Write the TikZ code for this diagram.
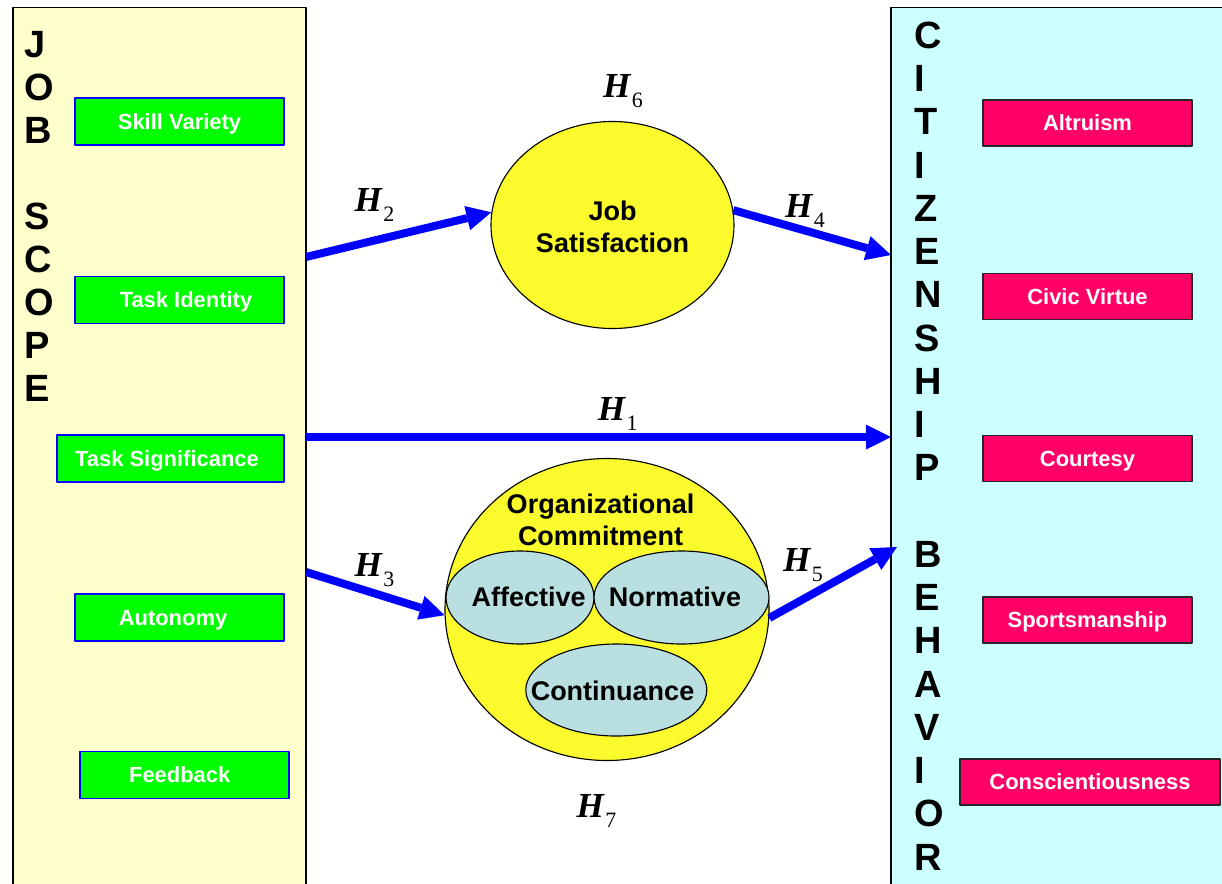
\documentclass[tikz,border=0pt]{standalone}
\usepackage{fontspec}
\setmainfont{Liberation Sans}
\newfontfamily\hfont{Liberation Serif}
\usetikzlibrary{arrows.meta,shapes.geometric}
\definecolor{Jfill}{HTML}{FFFFCC}
\definecolor{Cfill}{HTML}{CCFFFF}
\definecolor{Gbox}{HTML}{00FF00}
\definecolor{Rbox}{HTML}{FF0066}
\definecolor{Yfill}{HTML}{FAFA2C}
\definecolor{Efill}{HTML}{B9DFE0}
\definecolor{Aline}{HTML}{0000FF}
\newcommand{\unitpx}{0.025cm}
\newcommand{\hlabel}[1]{{\hfont\fontsize{25}{25}\selectfont\bfseries\itshape H}\kern1pt\raisebox{-7pt}{\hfont\fontsize{15.6}{16}\selectfont #1}}

\begin{document}
\begin{tikzpicture}[x=0.025cm,y=-0.025cm,line join=round,
  letter/.style={anchor=base west,inner sep=0pt,font=\fontsize{27}{27}\selectfont\bfseries},
  boxtext/.style={inner sep=0pt,text=white,text height=11.2pt,text depth=0pt,font=\fontsize{15.6}{18}\selectfont\bfseries},
  gbox/.style={boxtext,draw=Aline,line width=0.8pt,fill=Gbox,minimum width=209*\unitpx,minimum height=47*\unitpx},
  rbox/.style={boxtext,draw=black!85,line width=1pt,fill=Rbox,minimum width=209*\unitpx,minimum height=46*\unitpx},
  blob/.style={ellipse,draw=black,line width=0.8pt,inner sep=0pt},
  blobtext/.style={inner sep=0pt,align=center,font=\fontsize{19.2}{22.3}\selectfont\bfseries},
  hyp/.style={Aline,line width=0.2cm,-{Triangle[length=0.62cm,width=0.62cm,line width=0pt]}}]
\useasboundingbox (0,0) rectangle (1222,883);

% ---- the two side panels ----
\draw[fill=Jfill,line width=1pt] (13,7.5) rectangle (306,900);
\draw[fill=Cfill,line width=1pt] (891,7.5) rectangle (1240,900);

\foreach \l [count=\i from 0] in {J,O,B,{},S,C,O,P,E}
  \node[letter] (js\i) at (24.5,57+43.1*\i) {\l};
\foreach \l [count=\i from 0] in {C,I,T,I,Z,E,N,S,H,I,P,{},B,E,H,A,V,I,O,R}
  \node[letter] (cb\i) at (914.5,48.5+43.24*\i) {\l};

% ---- job scope dimensions ----
\node[gbox] (skill)  at (179.5,121.5) {Skill Variety};
\node[gbox] (ident)  at (179.5,300)   {\hspace*{0.325cm}Task Identity};
\node[gbox,minimum width=227*\unitpx] (signif) at (170.5,458.5) {Task Significance\hspace*{0.175cm}};
\node[gbox] (auton)  at (179.5,617.5) {Autonomy\hspace*{0.325cm}};
\node[gbox] (feedb)  at (184.5,775)   {Feedback\hspace*{0.24cm}};

% ---- OCB dimensions ----
\node[rbox] (altru) at (1087.5,123)   {Altruism};
\node[rbox] (civic) at (1087.5,296.5) {Civic Virtue};
\node[rbox] (court) at (1087.5,458.5) {Courtesy};
\node[rbox] (sport) at (1087.5,620)   {Sportsmanship};
\node[rbox,minimum width=260*\unitpx] (consc) at (1090,782) {Conscientiousness};

% ---- mediators ----
\node[blob,fill=Yfill,minimum width=243*\unitpx,minimum height=207*\unitpx]
  (jobsat) at (612.5,225) {};
\node[blobtext] (tjob) at (612.5,226.7) {Job\\Satisfaction};
\node[blob,fill=Yfill,minimum width=324*\unitpx,minimum height=302*\unitpx]
  (orgcom) at (607,609.5) {};
\node[blobtext] (torg) at (600.5,520) {Organizational\\Commitment};
\node[blob,fill=Efill,minimum width=148*\unitpx,minimum height=93*\unitpx]
  (affec) at (520,597.5) {};
\node[blob,fill=Efill,minimum width=175*\unitpx,minimum height=93*\unitpx]
  (norma) at (681.5,597.5) {};
\node[blob,fill=Efill,minimum width=181*\unitpx,minimum height=92*\unitpx]
  (conti) at (616.3,690) {};
\node[blobtext,anchor=base] (taff) at (528.7,606.7) {Affective};
\node[blobtext,anchor=base] (tnor) at (675,606.7)   {Normative};
\node[blobtext,anchor=base] (tcon) at (612.5,700)   {Continuance};

% ---- hypothesised paths ----
\coordinate (a1) at (306,437);
\coordinate (b1) at (891,437);
\coordinate (a2) at (306,257);
\coordinate (b4) at (891,255);
\coordinate (a3) at (306,572);
\coordinate (b5) at (897,547);
\draw[hyp] (a1) -- (b1);
\draw[hyp] (a2) -- (jobsat.174);
\draw[hyp] (jobsat.7) -- (b4);
\draw[hyp] (a3) -- (orgcom.182);
\draw[hyp] (orgcom.357) -- (b5);

\foreach \n/\x/\y in {1/617.7/414, 2/374.6/205, 3/374.6/570, 4/805/211,
                      5/803/565, 6/623/91, 7/596.5/811}
  \node[inner sep=0pt] (h\n) at (\x,\y) {\hlabel{\n}};
\end{tikzpicture}
\end{document}
